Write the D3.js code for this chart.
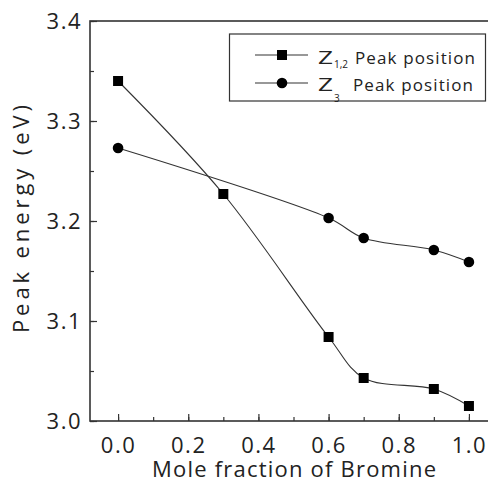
<!DOCTYPE html>
<html><head><meta charset="utf-8">
<script src="https://cdn.jsdelivr.net/npm/d3@7"></script>
<style>body{margin:0;background:#fff}svg{display:block}</style>
</head><body>
<svg id="c" width="488" height="481"></svg>
<script>
const xVals12 = [0.0, 0.3, 0.6, 0.7, 0.9, 1.0];
const yVals12 = [3.340, 3.227, 3.084, 3.043, 3.032, 3.015];
const xVals3 = [0.0, 0.6, 0.7, 0.9, 1.0];
const yVals3 = [3.273, 3.203, 3.183, 3.171, 3.159];
const xTicks = [0.0, 0.2, 0.4, 0.6, 0.8, 1.0];
const yTicks = [3.0, 3.1, 3.2, 3.3, 3.4];
const legendLabels = [["Z","1,2","Peak position"],["Z","3","Peak position"]];

const FONT = "'Open Sans', sans-serif";
const INK = "#222";
const svg = d3.select("#c");
const L = 90, T = 21, B = 421, R = 497;
const x = d3.scaleLinear().domain([-0.08, 1.08]).range([L, R]);
const y = d3.scaleLinear().domain([3.0, 3.4]).range([B, T]);

// frame
svg.append("rect").attr("x", L).attr("y", T).attr("width", R - L).attr("height", B - T)
  .attr("fill", "none").attr("stroke", "#333").attr("stroke-width", 1.6);

// x axis ticks (inside)
const xMinor = d3.range(0, 11).map(i => i / 10);
const gx = svg.append("g").attr("transform", `translate(0,${B})`)
  .call(d3.axisBottom(x).tickValues(xMinor).tickSize(-4).tickFormat(""));
gx.select(".domain").remove();
gx.selectAll("line").attr("stroke", "#333").attr("stroke-width", 1.2);
const gx2 = svg.append("g").attr("transform", `translate(0,${B})`)
  .call(d3.axisBottom(x).tickValues(xTicks).tickSize(-7).tickFormat(d3.format(".1f")));
gx2.select(".domain").remove();
gx2.selectAll("line").attr("stroke", "#333").attr("stroke-width", 1.2);
gx2.selectAll("text").attr("font-family", FONT).attr("font-size", 22).attr("fill", INK)
  .attr("letter-spacing", 1.5).attr("dy", null).attr("y", 32);

// y axis ticks
const yMinor = d3.range(0, 9).map(i => 3.0 + i * 0.05);
const gy = svg.append("g").attr("transform", `translate(${L},0)`)
  .call(d3.axisLeft(y).tickValues(yMinor).tickSize(-4).tickFormat(""));
gy.select(".domain").remove();
gy.selectAll("line").attr("stroke", "#333").attr("stroke-width", 1.2);
const gy2 = svg.append("g").attr("transform", `translate(${L},0)`)
  .call(d3.axisLeft(y).tickValues(yTicks).tickSize(-7).tickFormat(d3.format(".1f")));
gy2.select(".domain").remove();
gy2.selectAll("line").attr("stroke", "#333").attr("stroke-width", 1.2);
gy2.selectAll("text").attr("font-family", FONT).attr("font-size", 22).attr("fill", INK)
  .attr("letter-spacing", 1.5).attr("x", -8).attr("dy", "0.36em");

// titles
svg.append("text").attr("x", 152).attr("y", 477)
  .attr("textLength", 284).attr("lengthAdjust", "spacing")
  .attr("font-family", FONT).attr("font-size", 22).attr("fill", INK).text("Mole fraction of Bromine");
svg.append("text").attr("transform", "translate(29,333) rotate(-90)")
  .attr("textLength", 228).attr("lengthAdjust", "spacing")
  .attr("font-family", FONT).attr("font-size", 22).attr("fill", INK).text("Peak energy (eV)");

// lines
const line = d3.line().curve(d3.curveCatmullRom.alpha(0.5)).x(d => x(d[0])).y(d => y(d[1]));
const d12 = xVals12.map((v, i) => [v, yVals12[i]]);
const d3s = xVals3.map((v, i) => [v, yVals3[i]]);
svg.append("path").attr("d", line(d12)).attr("fill", "none").attr("stroke", "#333").attr("stroke-width", 1.1);
svg.append("path").attr("d", line(d3s)).attr("fill", "none").attr("stroke", "#333").attr("stroke-width", 1.1);

svg.selectAll(".sq").data(d12).enter().append("rect")
  .attr("x", d => x(d[0]) - 5).attr("y", d => y(d[1]) - 5).attr("width", 10).attr("height", 10).attr("fill", "#000");
svg.selectAll(".ci").data(d3s).enter().append("circle")
  .attr("cx", d => x(d[0])).attr("cy", d => y(d[1])).attr("r", 5.3).attr("fill", "#000");

// legend
svg.append("rect").attr("x", 229.5).attr("y", 34).attr("width", 256).attr("height", 67)
  .attr("fill", "#fff").attr("stroke", "#333").attr("stroke-width", 1.2);
const rows = [55, 83];
const textBase = [64, 91];
const subDy = [3.5, 11];
rows.forEach((ry, i) => {
  svg.append("line").attr("x1", 255).attr("x2", 308).attr("y1", ry).attr("y2", ry).attr("stroke", "#333").attr("stroke-width", 1.2);
  if (i === 0) svg.append("rect").attr("x", 277).attr("y", ry - 5).attr("width", 10).attr("height", 10).attr("fill", "#000");
  else svg.append("circle").attr("cx", 282).attr("cy", ry).attr("r", 5.3).attr("fill", "#000");
  svg.append("text").attr("x", 318).attr("y", textBase[i]).attr("font-family", FONT).attr("font-size", 19).attr("fill", INK)
    .attr("textLength", 15).attr("lengthAdjust", "spacingAndGlyphs")
    .text(legendLabels[i][0]);
  svg.append("text").attr("x", 334).attr("y", textBase[i] + subDy[i]).attr("font-family", FONT).attr("font-size", 10).attr("fill", INK)
    .text(legendLabels[i][1]);
  svg.append("text").attr("x", i === 0 ? 355 : 353).attr("y", textBase[i])
    .attr("textLength", 120).attr("lengthAdjust", "spacing")
    .attr("font-family", FONT).attr("font-size", 17).attr("fill", INK).text(legendLabels[i][2]);
});
</script>
</body></html>
